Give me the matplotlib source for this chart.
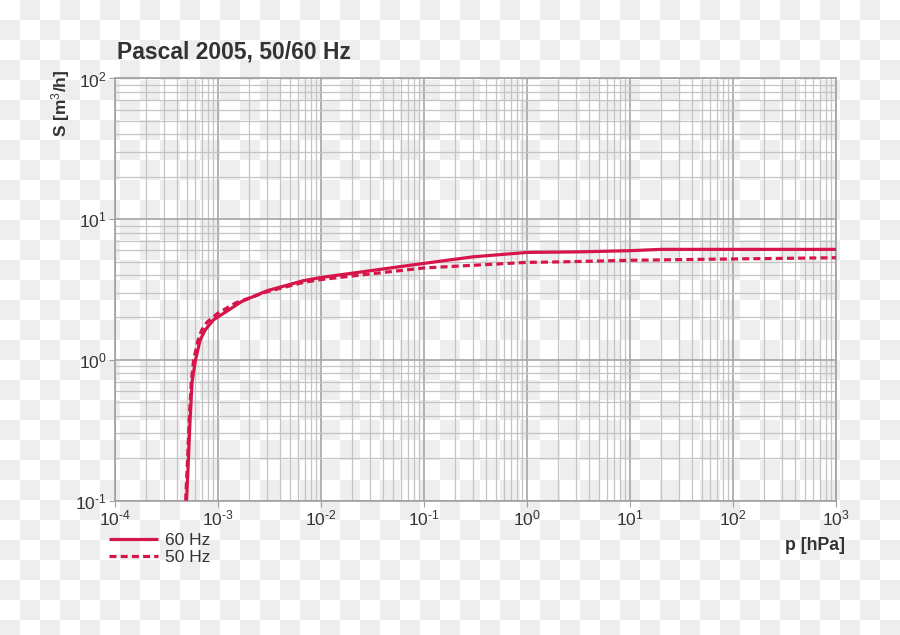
import numpy as np
import matplotlib
matplotlib.use('Agg')
import matplotlib.pyplot as plt
from matplotlib.ticker import LogLocator, FuncFormatter, NullFormatter

plt.rcParams['font.family'] = ['Liberation Sans', 'DejaVu Sans']
plt.rcParams['mathtext.fontset'] = 'custom'
plt.rcParams['mathtext.rm'] = 'Liberation Sans'
plt.rcParams['mathtext.it'] = 'Liberation Sans:italic'
plt.rcParams['mathtext.bf'] = 'Liberation Sans:bold'
plt.rcParams['axes.unicode_minus'] = False

# pumping speed curves
p_60hz = [4.95e-4, 5.15e-4, 5.35e-4, 5.6e-4, 6.05e-4, 6.7e-4, 7.5e-4, 9.0e-4,
          1.2e-3, 1.7e-3, 3.0e-3, 6.7e-3, 1e-2, 3e-2, 1e-1, 3e-1, 1, 3, 10, 20, 1000]
s_60hz = [0.1, 0.19, 0.37, 0.7, 1.0, 1.38, 1.63, 1.92,
          2.2, 2.6, 3.1, 3.65, 3.85, 4.3, 4.85, 5.4, 5.8, 5.85, 5.97, 6.1, 6.1]

p_50hz = [4.85e-4, 5.05e-4, 5.25e-4, 5.5e-4, 5.8e-4, 6.4e-4, 6.95e-4, 7.8e-4,
          1.0e-3, 1.5e-3, 3.0e-3, 6.7e-3, 1e-2, 3e-2, 1e-1, 1, 2.1, 10, 48, 1000]
s_50hz = [0.1, 0.19, 0.37, 0.7, 1.0, 1.38, 1.63, 1.85,
          2.15, 2.55, 3.05, 3.55, 3.72, 4.08, 4.5, 4.93, 4.97, 5.1, 5.18, 5.32]

title = 'Pascal 2005, 50/60 Hz'
x_label = 'p [hPa]'
y_label = 'S [m$^3$/h]'
labels = ['60 Hz', '50 Hz']

red = '#d6164a'
txt = '#333333'


def pow10(v, pos):
    # 10^n with a plain hyphen for negative exponents, like the original
    e = int(round(np.log10(v)))
    if e < 0:
        return r'$\mathdefault{10^{\text{-}%d}}$' % (-e)
    return r'$\mathdefault{10^{%d}}$' % e


fig = plt.figure(figsize=(9, 6.35), dpi=100)

# checkered background (20 px squares, counted from the top-left corner)
h, w = 635, 900
yy, xx = np.mgrid[0:h, 0:w]
board = np.where(((yy // 20) + (xx // 20)) % 2 == 0, 1.0, 0.937)[::-1]
fig.figimage(np.dstack([board, board, board]), xo=0, yo=0, origin='lower', zorder=-10)

ax = fig.add_axes([0.1278, 0.2118, 0.8011, 0.6646])
ax.set_facecolor('none')
ax.set_xscale('log')
ax.set_yscale('log')
ax.set_xlim(1e-4, 1e3)
ax.set_ylim(1e-1, 1e2)

ax.xaxis.set_major_locator(LogLocator(base=10, numticks=20))
ax.yaxis.set_major_locator(LogLocator(base=10, numticks=20))
ax.xaxis.set_minor_locator(LogLocator(base=10, subs=np.arange(2, 10), numticks=50))
ax.yaxis.set_minor_locator(LogLocator(base=10, subs=np.arange(2, 10), numticks=50))
ax.xaxis.set_major_formatter(FuncFormatter(pow10))
ax.yaxis.set_major_formatter(FuncFormatter(pow10))
ax.xaxis.set_minor_formatter(NullFormatter())
ax.yaxis.set_minor_formatter(NullFormatter())

ax.grid(which='major', color='#a5a5a5', lw=1.2, zorder=1)
ax.grid(which='minor', color='#c4c4c4', lw=0.9, zorder=1)
ax.set_axisbelow(True)
for sp in ax.spines.values():
    sp.set_color('#a0a0a0')
    sp.set_linewidth(1.2)
ax.tick_params(which='major', length=4, color='#a0a0a0', labelsize=12.5,
               labelcolor=txt, pad=2)
ax.tick_params(which='minor', length=0)

ax.plot(p_60hz, s_60hz, color=red, lw=2.3, ls='-', label=labels[0],
        solid_capstyle='butt', zorder=3)
ax.plot(p_50hz, s_50hz, color=red, lw=2.3, ls=(0, (2.2, 1.3)), label=labels[1],
        zorder=3)

fig.text(117 / 900, 1 - 52 / 635, title, fontsize=16.5, fontweight='bold',
         color=txt, ha='left', va='center')
fig.text(61 / 900, 1 - 70 / 635, y_label, fontsize=12.5, fontweight='bold',
         color=txt, rotation=90, ha='center', va='top')
fig.text(845 / 900, 1 - 546 / 635, x_label, fontsize=12.8, fontweight='bold',
         color=txt, ha='right', va='center')

leg = fig.legend(loc='upper left', bbox_to_anchor=(109 / 900, 1 - 533 / 635),
                 frameon=False, fontsize=12.5, handlelength=2.8, handletextpad=0.4,
                 labelspacing=0.1, borderpad=0, borderaxespad=0)
for t in leg.get_texts():
    t.set_color(txt)

fig.savefig('out.png', dpi=100)
